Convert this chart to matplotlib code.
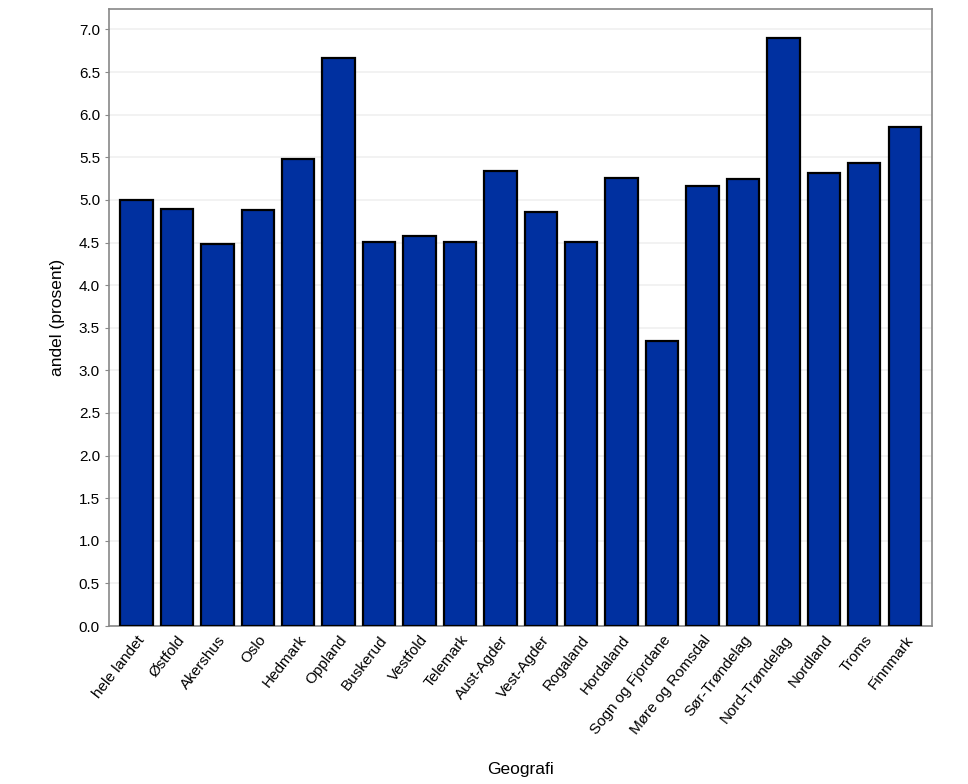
import matplotlib
matplotlib.use("Agg")
import matplotlib.pyplot as plt
import numpy as np

plt.rcParams['font.family'] = ['Liberation Sans', 'DejaVu Sans']

categories = ["hele landet", "Østfold", "Akershus", "Oslo", "Hedmark", "Oppland",
              "Buskerud", "Vestfold", "Telemark", "Aust-Agder", "Vest-Agder",
              "Rogaland", "Hordaland", "Sogn og Fjordane", "Møre og Romsdal",
              "Sør-Trøndelag", "Nord-Trøndelag", "Nordland", "Troms", "Finnmark"]
values = [5.00, 4.89, 4.48, 4.88, 5.48, 6.67, 4.51, 4.58, 4.51, 5.34, 4.86,
          4.51, 5.26, 3.35, 5.16, 5.25, 6.90, 5.31, 5.43, 5.86]
yticks = np.arange(0, 7.01, 0.5)

fig = plt.figure(figsize=(9.68, 7.84), dpi=100)
ax = fig.add_axes([0.1126, 0.2015, 0.8504, 0.787])
x = np.arange(len(categories))
ax.bar(x, values, width=0.8, color="#0030A0", edgecolor="black", linewidth=1.6, zorder=3)
ax.set_xlim(-0.68, len(categories) - 1 + 0.68)
ax.set_ylim(0, 7.24)
ax.set_yticks(yticks)
ax.set_yticklabels([f"{v:.1f}" for v in yticks])
ax.yaxis.grid(True, color="#f0f0f0", linewidth=1.2, zorder=0)
ax.set_xticks(x)
ax.set_xticklabels(categories, rotation=52, ha="right", rotation_mode="anchor")
for s in ax.spines.values():
    s.set_color("#888888")
    s.set_linewidth(1.2)
ax.tick_params(axis="both", colors="#888888", labelcolor="black", labelsize=11, length=3)
ax.tick_params(axis="x", length=0, pad=5)
ax.set_ylabel("andel (prosent)", fontsize=12.5, labelpad=10)
ax.set_xlabel("Geografi", fontsize=12.5, labelpad=18)
fig.savefig("out.png", dpi=100)
